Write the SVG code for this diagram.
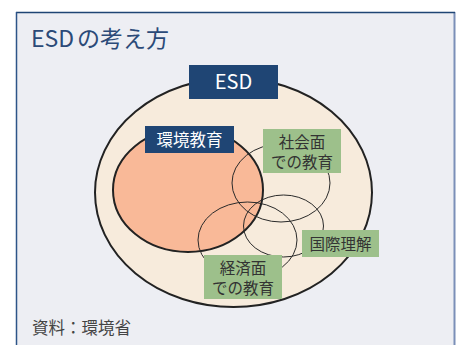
<svg xmlns="http://www.w3.org/2000/svg" width="460" height="345" viewBox="0 0 460 345">
<style>
.jp{font-family:"Noto Sans CJK JP","Noto Sans",sans-serif}
.lbl{fill:#333333;font-size:15.5px;text-anchor:middle}
.wt{fill:#ffffff;text-anchor:middle}
.thin{fill:none;stroke:#2a2a2a;stroke-width:1}
.navy{fill:#1f4574}
.green{fill:#9dc08b}
</style>
<rect x="0" y="0" width="460" height="345" fill="#ffffff"/>
<g id="panel">
<rect x="16" y="12" width="439" height="345" fill="#edeef3"/>
<line x1="454.5" y1="12" x2="454.5" y2="345" stroke="#7b8fb8" stroke-width="2"/>
<line x1="16" y1="12.5" x2="455" y2="12.5" stroke="#1f4574" stroke-width="1.5"/>
<line x1="16.5" y1="12" x2="16.5" y2="345" stroke="#2d5488" stroke-width="1.5"/>
<text class="jp" x="31" y="47" font-size="23" fill="#2b4a78">ESD<tspan dx="3">の考え方</tspan></text>
<text class="jp" x="32" y="334" font-size="16.5" fill="#444444">資料：環境省</text>
</g>
<g id="esd">
<ellipse cx="233.5" cy="192.5" rx="138.5" ry="114.5" fill="#f7ebdc" stroke="#222" stroke-width="2"/>
</g>
<g id="kankyo">
<ellipse cx="188" cy="190" rx="75" ry="62" fill="#f9b998" stroke="#222" stroke-width="2"/>
</g>
<g id="connectors">
<ellipse class="thin" cx="281" cy="183" rx="49" ry="39"/>
<ellipse class="thin" cx="283.5" cy="226" rx="40" ry="31"/>
<ellipse class="thin" cx="247.5" cy="240" rx="49.5" ry="38"/>
</g>
<g id="esd-label">
<rect class="navy" x="189" y="65" width="89" height="34"/>
<text class="jp wt" x="233.5" y="89" font-size="20">ESD</text>
</g>
<g id="kankyo-label">
<rect class="navy" x="145" y="126" width="89" height="27"/>
<text class="jp wt" x="189.5" y="146" font-size="16.5">環境教育</text>
</g>
<g id="shakai">
<rect class="green" x="263" y="129" width="78" height="44"/>
<text class="jp lbl" x="302" y="148">社会面</text>
<text class="jp lbl" x="302" y="168">での教育</text>
</g>
<g id="kokusai">
<rect class="green" x="302" y="230" width="77" height="27"/>
<text class="jp lbl" x="340.5" y="250">国際理解</text>
</g>
<g id="keizai">
<rect class="green" x="204" y="255" width="78" height="44"/>
<text class="jp lbl" x="243" y="274">経済面</text>
<text class="jp lbl" x="243" y="294">での教育</text>
</g>
</svg>
